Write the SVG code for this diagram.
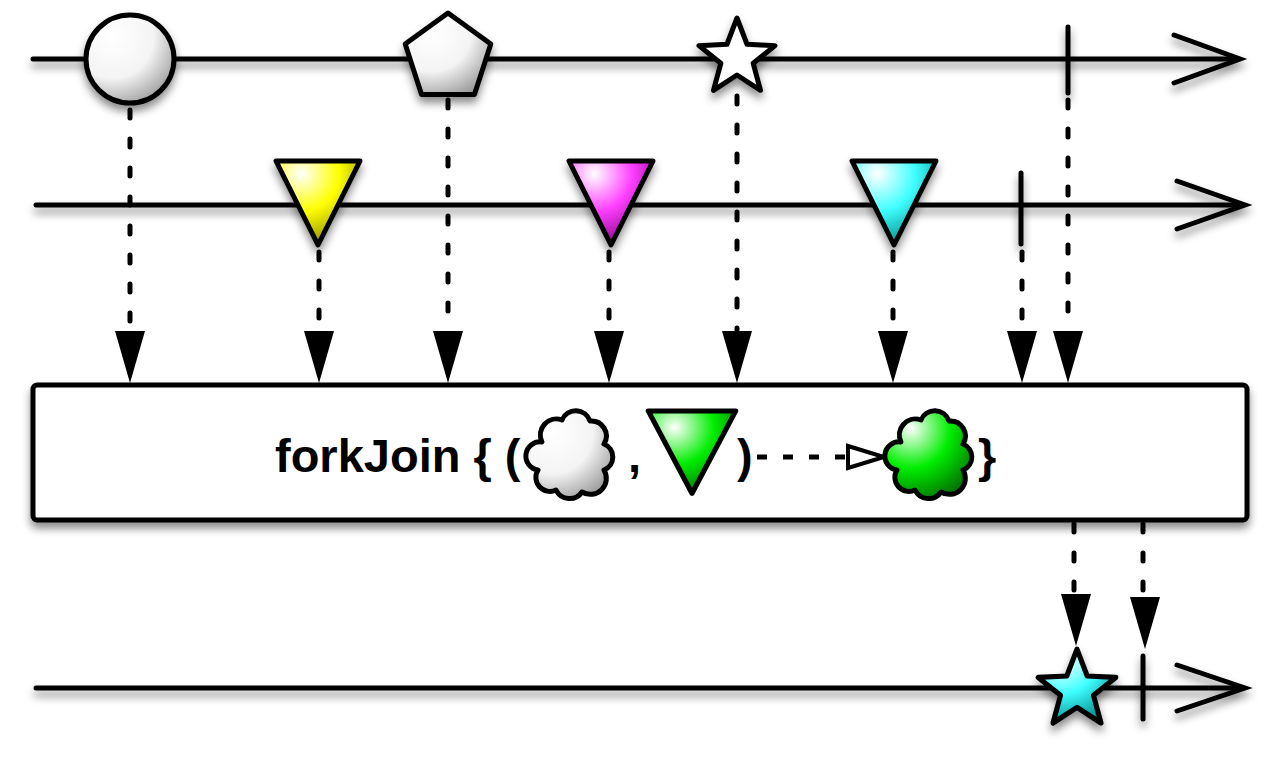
<svg xmlns="http://www.w3.org/2000/svg" width="1280" height="760" viewBox="0 0 1280 760">
<defs>
<filter id="sh" x="-20%" y="-20%" width="140%" height="160%">
<feDropShadow dx="0" dy="6" stdDeviation="4" flood-color="#000" flood-opacity="0.45"/>
</filter>
<filter id="shu" filterUnits="userSpaceOnUse" x="0" y="0" width="1280" height="760">
<feDropShadow dx="0" dy="6" stdDeviation="4" flood-color="#000" flood-opacity="0.45"/>
</filter>
<radialGradient id="gWhite" cx="0.3" cy="0.25" r="0.85">
<stop offset="0" stop-color="#fff"/><stop offset="0.55" stop-color="#f4f4f4"/><stop offset="1" stop-color="#9a9a9a"/>
</radialGradient>
<radialGradient id="gYellow" cx="0.3" cy="0.15" r="0.9">
<stop offset="0" stop-color="#fff"/><stop offset="0.5" stop-color="#ffff00"/><stop offset="1" stop-color="#8a8a00"/>
</radialGradient>
<radialGradient id="gMagenta" cx="0.3" cy="0.15" r="0.9">
<stop offset="0" stop-color="#fff"/><stop offset="0.5" stop-color="#ff40ff"/><stop offset="1" stop-color="#8a008a"/>
</radialGradient>
<radialGradient id="gCyan" cx="0.3" cy="0.15" r="0.9">
<stop offset="0" stop-color="#fff"/><stop offset="0.5" stop-color="#40ffff"/><stop offset="1" stop-color="#008a8a"/>
</radialGradient>
<radialGradient id="gGreen" cx="0.3" cy="0.2" r="0.9">
<stop offset="0" stop-color="#fff"/><stop offset="0.5" stop-color="#00ee00"/><stop offset="1" stop-color="#006a00"/>
</radialGradient>
<path id="star" d="M0,-40 L9.99,-13.75 L38.04,-12.36 L16.17,5.25 L23.51,32.36 L0,17 L-23.51,32.36 L-16.17,5.25 L-38.04,-12.36 L-9.99,-13.75 Z"/>
<path id="tri" d="M-42,0 L42,0 L0,84 Z"/>
<path id="cloud" d="M10,32 A16,16 0 0 1 30,10 A15,15 0 0 1 58,11 A15,15 0 0 1 72,34 A14,14 0 0 1 72,60 A16,16 0 0 1 50,82 A15,15 0 0 1 24,80 A14,14 0 0 1 6,60 A14,14 0 0 1 10,32 Z"/>
<path id="ah" d="M-15,0 L15,0 L0,52 Z"/>
</defs>
<style>
.ln{stroke:#000;stroke-width:5;stroke-linecap:round;fill:none}
.sh{stroke:#000;stroke-width:5;stroke-linejoin:round}
.dot{stroke:#000;stroke-width:5;stroke-linecap:round;stroke-dasharray:8 21;fill:none}
.ah{fill:#000}
.lbl{font-family:"Liberation Sans",Arial,sans-serif;font-weight:bold;font-size:47px;fill:#000}
</style>

<g id="connectors">
<line class="dot" x1="130" y1="110" x2="130" y2="330"/>
<line class="dot" x1="319" y1="252" x2="319" y2="330"/>
<line class="dot" x1="448" y1="100" x2="448" y2="330"/>
<line class="dot" x1="609" y1="252" x2="609" y2="330"/>
<line class="dot" x1="737" y1="96" x2="737" y2="330"/>
<line class="dot" x1="893" y1="252" x2="893" y2="330"/>
<line class="dot" x1="1022" y1="252" x2="1022" y2="330"/>
<line class="dot" x1="1068" y1="100" x2="1068" y2="330"/>
<line class="dot" x1="1074" y1="524" x2="1074" y2="595"/>
<line class="dot" x1="1143" y1="524" x2="1143" y2="595"/>
<use href="#ah" class="ah" x="130" y="331"/>
<use href="#ah" class="ah" x="319" y="331"/>
<use href="#ah" class="ah" x="448" y="331"/>
<use href="#ah" class="ah" x="609" y="331"/>
<use href="#ah" class="ah" x="737" y="331"/>
<use href="#ah" class="ah" x="893" y="331"/>
<use href="#ah" class="ah" x="1022" y="331"/>
<use href="#ah" class="ah" x="1068" y="331"/>
<use href="#ah" class="ah" x="1076" y="594"/>
<use href="#ah" class="ah" x="1145" y="597"/>
</g>

<g id="timeline1" filter="url(#shu)">
<line class="ln" x1="33" y1="59" x2="1238" y2="59"/>
<polyline class="ln" points="1174,35 1240,59 1174,83"/>
</g>
<g id="timeline2" filter="url(#shu)">
<line class="ln" x1="36" y1="205" x2="1243" y2="205"/>
<polyline class="ln" points="1177,181 1245,205 1177,229"/>
</g>
<g id="timeline3" filter="url(#shu)">
<line class="ln" x1="36" y1="688" x2="1243" y2="688"/>
<polyline class="ln" points="1177,665 1245,688 1177,711"/>
</g>

<g id="circle" filter="url(#sh)"><circle class="sh" cx="130" cy="59" r="44" fill="url(#gWhite)"/></g>
<g id="pentagon" filter="url(#sh)"><polygon class="sh" fill="url(#gWhite)" points="448,13 490.8,44.1 474.45,94.4 421.55,94.4 405.2,44.1"/></g>
<g id="star1" filter="url(#sh)"><use href="#star" class="sh" fill="#fff" transform="translate(737,58)"/></g>
<g id="end1" filter="url(#shu)"><line class="ln" x1="1068" y1="27" x2="1068" y2="93"/></g>

<g id="triYellow" filter="url(#sh)"><use href="#tri" class="sh" fill="url(#gYellow)" transform="translate(318,161)"/></g>
<g id="triMagenta" filter="url(#sh)"><use href="#tri" class="sh" fill="url(#gMagenta)" transform="translate(611,161)"/></g>
<g id="triCyan" filter="url(#sh)"><use href="#tri" class="sh" fill="url(#gCyan)" transform="translate(894,161)"/></g>
<g id="end2" filter="url(#shu)"><line class="ln" x1="1021" y1="173" x2="1021" y2="244"/></g>

<g id="operator">
<rect x="33" y="385" width="1214" height="135" rx="4" fill="#fff" stroke="#000" stroke-width="5" filter="url(#sh)"/>
<text class="lbl" x="275" y="472">forkJoin { (</text>
<use href="#cloud" class="sh" fill="url(#gWhite)" transform="translate(532,410)"/>
<text class="lbl" x="628" y="472">,</text>
<use href="#tri" class="sh" fill="url(#gGreen)" transform="translate(692,411) scale(1.04,0.98)"/>
<text class="lbl" x="737" y="472">)</text>
<line x1="757" y1="457" x2="848" y2="457" stroke="#000" stroke-width="5" stroke-dasharray="10 16"/>
<polygon points="848,446 884,457 848,468" fill="#fff" stroke="#000" stroke-width="4" stroke-linejoin="miter"/>
<use href="#cloud" class="sh" fill="url(#gGreen)" transform="translate(891,410)"/>
<text class="lbl" x="978" y="472">}</text>
</g>

<g id="star2" filter="url(#sh)"><use href="#star" class="sh" fill="url(#gCyan)" transform="translate(1077,690) scale(1.02)"/></g>
<g id="end3" filter="url(#shu)"><line class="ln" x1="1143" y1="656" x2="1143" y2="719"/></g>
</svg>
